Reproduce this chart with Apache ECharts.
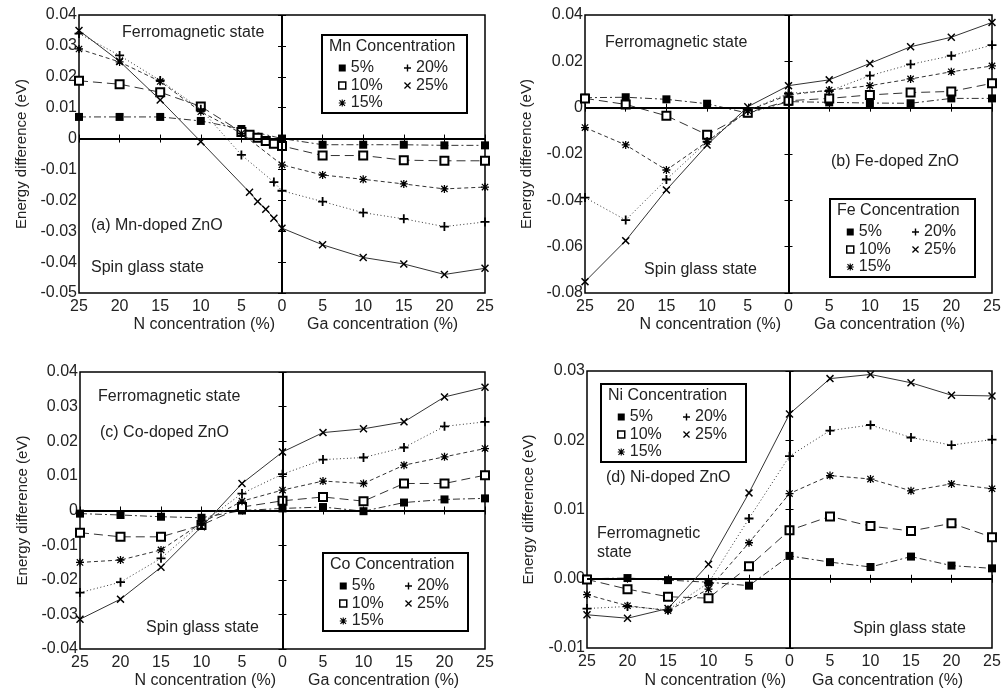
<!DOCTYPE html>
<html>
<head>
<meta charset="utf-8">
<script src="https://cdn.jsdelivr.net/npm/echarts@6/dist/echarts.min.js"></script>
<style>
html,body{margin:0;padding:0;background:#fff;}
#chart{width:1008px;height:695px;}
</style>
</head>
<body>
<div id="chart"></div>
<script>
// ---------- DATA ----------
const concNames = ['5%', '10%', '15%', '20%', '25%'];
const xStd = [-25, -20, -15, -10, -5, 0, 5, 10, 15, 20, 25]; // negative = N side, positive = Ga side
const xTickLabels = [25, 20, 15, 10, 5, 0, 5, 10, 15, 20, 25];

// (a) Mn-doped ZnO
const mnX5 = xStd;
const mn5 = [0.007, 0.007, 0.007, 0.0057, 0.0031, 0, -0.002, -0.002, -0.002, -0.0022, -0.0022];
const mnX10 = [-25, -20, -15, -10, -5, -4, -3, -2, -1, 0, 5, 10, 15, 20, 25];
const mn10 = [0.0187, 0.0176, 0.015, 0.0104, 0.0021, 0.0012, 0.0003, -0.0008, -0.0017, -0.0024, -0.0055, -0.0055, -0.007, -0.0072, -0.0072];
const mnX15 = xStd;
const mn15 = [0.029, 0.0248, 0.0185, 0.0087, 0.0017, -0.0085, -0.0118, -0.0132, -0.0147, -0.0163, -0.0157];
const mnX20 = [-25, -20, -15, -10, -5, -1, 0, 5, 10, 15, 20, 25];
const mn20 = [0.034, 0.0269, 0.0188, 0.0095, -0.0053, -0.0141, -0.0169, -0.0204, -0.024, -0.026, -0.0285, -0.027];
const mnX25 = [-25, -20, -15, -10, -4, -3, -2, -1, 0, 5, 10, 15, 20, 25];
const mn25 = [0.035, 0.025, 0.0125, -0.001, -0.0174, -0.0204, -0.0229, -0.0258, -0.029, -0.0344, -0.0385, -0.0406, -0.044, -0.042];

// (b) Fe-doped ZnO
const fe5 = [0.0043, 0.0045, 0.0036, 0.0017, -0.0024, 0.0026, 0.0023, 0.002, 0.0019, 0.004, 0.004];
const fe10 = [0.004, 0.0014, -0.0035, -0.0117, -0.0022, 0.003, 0.004, 0.0055, 0.0065, 0.007, 0.0105];
const fe15 = [-0.0086, -0.0161, -0.0269, -0.0147, -0.0013, 0.0055, 0.0076, 0.0095, 0.0124, 0.0155, 0.018];
const fe20 = [-0.0388, -0.0485, -0.031, -0.0147, -0.0013, 0.0062, 0.0072, 0.0138, 0.0187, 0.0224, 0.027];
const fe25 = [-0.0751, -0.0574, -0.0355, -0.0161, 0.0004, 0.0095, 0.012, 0.0191, 0.0263, 0.0304, 0.0368];

// (c) Co-doped ZnO
const co5 = [-0.0009, -0.0013, -0.0018, -0.0021, 0, 0.0006, 0.001, -0.0002, 0.0023, 0.0032, 0.0035];
const co10 = [-0.0064, -0.0076, -0.0076, -0.0042, 0.001, 0.0028, 0.0039, 0.0027, 0.0078, 0.0078, 0.0102];
const co15 = [-0.015, -0.0143, -0.0114, -0.0036, 0.0027, 0.0059, 0.0085, 0.0078, 0.0131, 0.0155, 0.0179];
const co20 = [-0.0237, -0.0207, -0.0138, -0.0037, 0.0049, 0.0105, 0.0147, 0.0153, 0.0182, 0.0243, 0.0256];
const co25 = [-0.0314, -0.0256, -0.0164, -0.0047, 0.0078, 0.0169, 0.0225, 0.0236, 0.0256, 0.0328, 0.0356];

// (d) Ni-doped ZnO
const ni5 = [0, 0.0001, -0.0002, -0.0005, -0.001, 0.0033, 0.0024, 0.0017, 0.0032, 0.0019, 0.0015];
const ni10 = [-0.0001, -0.0015, -0.0026, -0.0028, 0.0018, 0.007, 0.009, 0.0076, 0.0069, 0.008, 0.006];
const ni15 = [-0.0023, -0.0039, -0.0046, -0.0015, 0.0052, 0.0123, 0.0149, 0.0144, 0.0127, 0.0137, 0.013];
const ni20 = [-0.0043, -0.004, -0.0045, -0.0006, 0.0087, 0.0177, 0.0214, 0.0222, 0.0204, 0.0193, 0.0201];
const ni25 = [-0.0052, -0.0057, -0.0043, 0.0021, 0.0124, 0.0238, 0.0289, 0.0295, 0.0283, 0.0265, 0.0264];

// y-axis tick values per panel
const yTicksA = [-0.05, -0.04, -0.03, -0.02, -0.01, 0, 0.01, 0.02, 0.03, 0.04];
const yTicksB = [-0.08, -0.06, -0.04, -0.02, 0, 0.02, 0.04];
const yTicksC = [-0.04, -0.03, -0.02, -0.01, 0, 0.01, 0.02, 0.03, 0.04];
const yTicksD = [-0.01, 0, 0.01, 0.02, 0.03];

const panelTitles = ['(a) Mn-doped ZnO', '(b) Fe-doped ZnO', '(c) Co-doped ZnO', '(d) Ni-doped ZnO'];
const legendTitles = ['Mn Concentration', 'Fe Concentration', 'Co Concentration', 'Ni Concentration'];

// ---------- STYLE ----------
const FONT = '"Liberation Sans", Arial, sans-serif';
const TXT = '#222';
const PLUS = 'path://M4,0H6V4H10V6H6V10H4V6H0V4H4Z';
const CROSS = 'path://M0,1.3L1.3,0L5,3.7L8.7,0L10,1.3L6.3,5L10,8.7L8.7,10L5,6.3L1.3,10L0,8.7L3.7,5Z';
const STAR = 'path://M4.2,0H5.8V4.2H10V5.8H5.8V10H4.2V5.8H0V4.2H4.2Z M0.5,1.6L1.6,0.5L5,3.9L8.4,0.5L9.5,1.6L6.1,5L9.5,8.4L8.4,9.5L5,6.1L1.6,9.5L0.5,8.4L3.9,5Z';

const seriesStyle = {
  '5%':  {symbol: 'rect', size: 8, item: {color: '#000'}, dash: [7, 3, 2, 3]},
  '10%': {symbol: 'rect', size: 8, item: {color: '#fff', borderColor: '#000', borderWidth: 2}, dash: [9, 5]},
  '15%': {symbol: STAR, size: 8, item: {color: '#000'}, dash: [4, 3]},
  '20%': {symbol: PLUS, size: 9, item: {color: '#000'}, dash: [1, 2.5]},
  '25%': {symbol: CROSS, size: 8, item: {color: '#000'}, dash: 'solid'}
};
const legendIconStyle = {
  '10%': {color: '#fff', borderColor: '#000', borderWidth: 1.5}
};

const grids = [
  {left: 79, top: 15, width: 406, height: 278},
  {left: 585, top: 15, width: 407, height: 278},
  {left: 80, top: 372, width: 405, height: 277},
  {left: 587, top: 371, width: 405, height: 277}
];

const yTickSets = [yTicksA, yTicksB, yTicksC, yTicksD];
const panelData = [
  [[mnX5, mn5], [mnX10, mn10], [mnX15, mn15], [mnX20, mn20], [mnX25, mn25]],
  [[xStd, fe5], [xStd, fe10], [xStd, fe15], [xStd, fe20], [xStd, fe25]],
  [[xStd, co5], [xStd, co10], [xStd, co15], [xStd, co20], [xStd, co25]],
  [[xStd, ni5], [xStd, ni10], [xStd, ni15], [xStd, ni20], [xStd, ni25]]
];

const xAxes = [], yAxes = [], series = [], legends = [], graphics = [];

const tickStyle = {show: true, inside: true, length: 4, lineStyle: {color: '#000', width: 1}};

grids.forEach((g, gi) => {
  const ticks = yTickSets[gi];
  const yMin = ticks[0], yMax = ticks[ticks.length - 1];
  const yInt = +(ticks[1] - ticks[0]).toFixed(4);
  const yFmt = gi === 3
    ? (v => (+v).toFixed(2))
    : (v => (Math.abs(v) < 1e-9 ? '0' : String(+(+v).toFixed(2))));
  xAxes.push({
    type: 'value', gridIndex: gi, position: 'bottom', min: -25, max: 25, interval: 5,
    axisLine: {show: false}, axisTick: tickStyle, splitLine: {show: false},
    axisLabel: {formatter: v => String(xTickLabels[xStd.indexOf(v)] !== undefined ? xTickLabels[xStd.indexOf(v)] : Math.abs(v)),
      margin: 6, fontSize: 16, color: TXT, fontFamily: FONT}
  });
  xAxes.push({
    type: 'value', gridIndex: gi, position: 'top', min: -25, max: 25, interval: 5,
    axisLine: {show: false}, axisTick: tickStyle, splitLine: {show: false}, axisLabel: {show: false}
  });
  yAxes.push({
    type: 'value', gridIndex: gi, position: 'left', min: yMin, max: yMax, interval: yInt,
    axisLine: {show: false}, axisTick: tickStyle, splitLine: {show: false},
    axisLabel: {formatter: yFmt, margin: 2, fontSize: 16, color: TXT, fontFamily: FONT},
    name: 'Energy difference (eV)', nameLocation: 'middle', nameGap: gi % 2 === 0 ? 50 : 51,
    nameTextStyle: {fontSize: 15, color: TXT, fontFamily: FONT}
  });
  yAxes.push({
    type: 'value', gridIndex: gi, position: 'right', min: yMin, max: yMax, interval: yInt,
    axisLine: {show: false}, axisTick: tickStyle, splitLine: {show: false}, axisLabel: {show: false}
  });

  concNames.forEach((nm, si) => {
    const st = seriesStyle[nm];
    const [xs, ys] = panelData[gi][si];
    const s = {
      name: nm, type: 'line', xAxisIndex: gi * 2, yAxisIndex: gi * 2,
      data: xs.map((x, k) => [x, ys[k]]),
      symbol: st.symbol, symbolSize: st.size, showAllSymbol: true,
      itemStyle: st.item,
      lineStyle: {color: '#333', width: 1, type: st.dash},
      animation: false, z: 3 + si
    };
    if (si === 0) {
      s.markLine = {
        silent: true, symbol: ['none', 'none'], animation: false,
        label: {show: false},
        lineStyle: {color: '#000', width: 2, type: 'solid'},
        data: [{xAxis: 0}, {yAxis: 0}]
      };
    }
    series.push(s);
  });
});

// Legend boxes
const boxes = [{x: 322, y: 35}, {x: 830, y: 199}, {x: 323, y: 553}, {x: 601, y: 384}];
const legendItem = nm => {
  const st = seriesStyle[nm];
  return {name: nm, icon: st.symbol, itemStyle: Object.assign({}, legendIconStyle[nm] || st.item)};
};
boxes.forEach((b, gi) => {
  graphics.push({type: 'rect', z: 2, shape: {x: b.x, y: b.y, width: 145, height: 78},
    style: {fill: '#fff', stroke: '#000', lineWidth: 2}});
  graphics.push({type: 'text', z: 3, x: b.x + 7, y: b.y + 12,
    style: {text: legendTitles[gi], fill: TXT, font: '16px ' + FONT, align: 'left', verticalAlign: 'middle'}});
  const common = {orient: 'vertical', itemGap: 0.5, itemWidth: 7, itemHeight: 7, padding: 0,
    selectedMode: false, z: 10,
    textStyle: {fontSize: 16, lineHeight: 17, color: TXT, fontFamily: FONT}};
  legends.push(Object.assign({}, common, {left: b.x + 16, top: b.y + 24.5,
    data: ['5%', '10%', '15%'].map(legendItem)}));
  legends.push(Object.assign({}, common, {left: b.x + 82, top: b.y + 24.5,
    data: ['20%', '25%'].map(legendItem)}));
});

// Annotations
const annos = [
  ['Ferromagnetic state', 122, 33], [panelTitles[0], 91, 226], ['Spin glass state', 91, 268],
  ['Ferromagnetic state', 605, 43], [panelTitles[1], 831, 162], ['Spin glass state', 644, 270],
  ['Ferromagnetic state', 98, 397], [panelTitles[2], 100, 433], ['Spin glass state', 146, 628],
  [panelTitles[3], 606, 478], ['Ferromagnetic', 597, 534], ['state', 597, 553], ['Spin glass state', 853, 629]
];
annos.forEach(([t, x, y]) => graphics.push({type: 'text', z: 3, x: x, y: y,
  style: {text: t, fill: TXT, font: '16px ' + FONT, align: 'left', verticalAlign: 'middle'}}));

// x axis names
const xNames = [
  [275, 307, 325], [781, 814, 325], [276, 308, 681], [786, 812, 681]
];
xNames.forEach(([nr, gl, y]) => {
  graphics.push({type: 'text', z: 3, x: nr, y: y,
    style: {text: 'N concentration (%)', fill: TXT, font: '16px ' + FONT, align: 'right', verticalAlign: 'middle'}});
  graphics.push({type: 'text', z: 3, x: gl, y: y,
    style: {text: 'Ga concentration (%)', fill: TXT, font: '16px ' + FONT, align: 'left', verticalAlign: 'middle'}});
});

const chart = echarts.init(document.getElementById('chart'), null, {renderer: 'canvas'});
chart.setOption({
  backgroundColor: '#fff',
  animation: false,
  grid: grids.map(g => Object.assign({show: true, borderColor: '#000', borderWidth: 1.5, backgroundColor: 'transparent'}, g)),
  xAxis: xAxes,
  yAxis: yAxes,
  legend: legends,
  graphic: graphics,
  series: series
});
</script>
</body>
</html>
